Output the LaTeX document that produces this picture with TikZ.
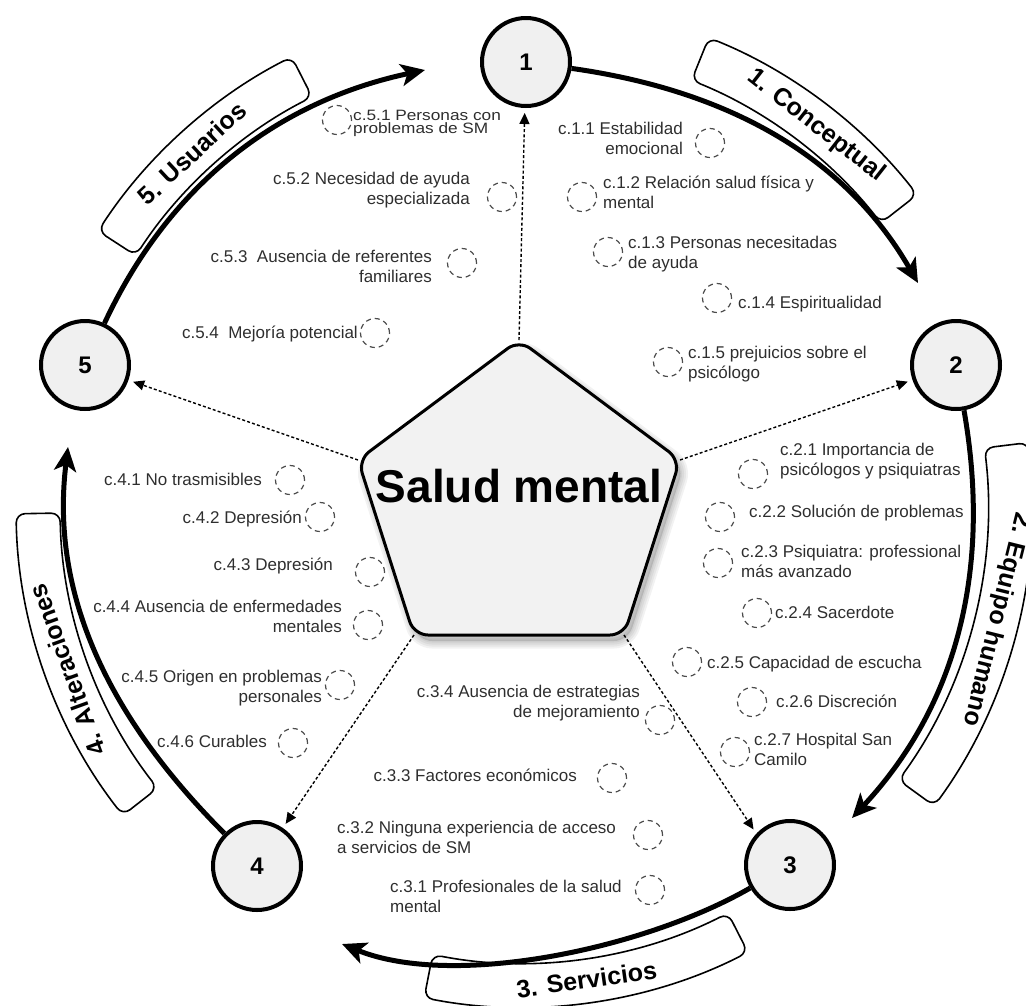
\documentclass[tikz,border=0pt]{standalone}
\usepackage{fontspec}
\setmainfont{Liberation Sans}
\newfontfamily\squeezed[FakeStretch=1.15]{Liberation Sans}
\usetikzlibrary{arrows.meta}
\begin{document}
\begin{tikzpicture}[x=1pt,y=1pt,
  num/.style={circle,draw=black,line width=4pt,fill=black!6,minimum size=88pt,inner sep=0pt,font=\fontsize{24}{24}\selectfont\bfseries},
  dc/.style={circle,draw=black!70,dash pattern=on 5pt off 4pt,line width=1.2pt,minimum size=29pt,inner sep=0pt},
  itm/.style={inner sep=0pt,text=black!82,font=\fontsize{17}{20}\selectfont},
  itl/.style={itm,anchor=north west,align=left},
  itr/.style={itm,anchor=north east,align=right},
  big/.style={line width=5pt,-{Stealth[length=24pt,width=22pt,inset=6pt]},looseness=0.95},
  dsh/.style={line width=1.4pt,dash pattern=on 3pt off 2.2pt,-{Triangle[length=11pt,width=10pt]},shorten >=5pt},
  band/.style={draw=black,line width=1.6pt,fill=white,rounded corners=9pt},
  blab/.style={inner sep=0pt,font=\fontsize{25}{25}\selectfont\bfseries}
]
\useasboundingbox (0,0) rectangle (1026,-1005);
\coordinate (C) at (520,-505);

% label bands
\draw[band] ([shift={(C)}]38:458pt) arc[start angle=38,end angle=68,radius=458pt] -- ([shift={(C)}]68:504pt) arc[start angle=68,end angle=38,radius=504pt] -- cycle;
\node[blab,rotate=-38] (b1) at ([shift={(C)}]52:481pt) {1. Conceptual};

\draw[band] ([shift={(C)}]-36:468pt) arc[start angle=-36,end angle=7,radius=468pt] -- ([shift={(C)}]7:512pt) arc[start angle=7,end angle=-36,radius=512pt] -- cycle;
\node[blab,rotate=-104] (b2) at ([shift={(C)}]-13.5:490pt) {2. Equipo humano};

\draw[band] ([shift={(C)}]-101:458pt) arc[start angle=-101,end angle=-63,radius=458pt] -- ([shift={(C)}]-63:502pt) arc[start angle=-63,end angle=-101,radius=502pt] -- cycle;
\node[blab,rotate=8] (b3) at ([shift={(C)}]-82:479pt) {3. Servicios};

\draw[band] ([shift={(C)}]181:460pt) arc[start angle=181,end angle=218,radius=460pt] -- ([shift={(C)}]218:504pt) arc[start angle=218,end angle=181,radius=504pt] -- cycle;
\node[blab,rotate=110] (b4) at ([shift={(C)}]200:482pt) {4. Alteraciones};

\draw[band] ([shift={(C)}]117:458pt) arc[start angle=117,end angle=147,radius=458pt] -- ([shift={(C)}]147:503pt) arc[start angle=147,end angle=117,radius=503pt] -- cycle;
\node[blab,rotate=43] (b5) at ([shift={(C)}]133:481pt) {5. Usuarios};

% central pentagon with soft shadow
\begin{scope}[shift={(4,-6)}]
\foreach \w in {3,7,11,15}{\draw[black,opacity=0.05,line width=\w pt,line join=round,rounded corners=14pt] (519,-340) -- (680,-460) -- (624,-635) -- (414,-635) -- (358,-460) -- cycle;}
\fill[black,opacity=0.12,rounded corners=14pt] (519,-340) -- (680,-460) -- (624,-635) -- (414,-635) -- (358,-460) -- cycle;
\end{scope}
\coordinate (pT) at (519,-340);
\coordinate (pR) at (680,-460);
\coordinate (pBR) at (624,-635);
\coordinate (pBL) at (414,-635);
\coordinate (pL) at (358,-460);
\draw[line width=3pt,fill=black!5,rounded corners=14pt,line join=round] (pT) -- (pR) -- (pBR) -- (pBL) -- (pL) -- cycle;
\node[font=\fontsize{46}{46}\selectfont\bfseries,inner sep=0pt,anchor=base] (smt) at (519,-502) {Salud mental};

% numbered nodes
\node[num] (n1) at (526,-62) {1};
\node[num] (n2) at (956,-365) {2};
\node[num] (n3) at (790,-865) {3};
\node[num] (n4) at (257,-866) {4};
\node[num] (n5) at (85,-365) {5};

% cycle arrows
\coordinate (e12) at (918,-283);
\coordinate (e23) at (852,-818);
\coordinate (e34) at (342,-944);
\coordinate (e45) at (68,-447);
\coordinate (e51) at (425,-70);
\draw[big] (n1) to[out=-8,in=120] (e12);
\draw[big] (n2) to[out=-80,in=47] (e23);
\draw[big,looseness=0.75] (n3) to[out=-150,in=-22] (e34);
\draw[big] (n4) to[out=135,in=-97] (e45);
\draw[big] (n5) to[out=65,in=-168] (e51);

% dashed connectors
\draw[dsh] (pT) -- (n1);
\draw[dsh] (pR) -- (n2);
\draw[dsh] (pBR) -- (n3.137);
\draw[dsh] (pBL) -- (n4);
\draw[dsh] (pL) -- (n5);

% category 5
\node[itm,anchor=north west,align=left,font=\squeezed\fontsize{15}{13}\selectfont] (t51) at (353,-106) {\rule{0pt}{14pt}c.5.1 Personas con\\problemas de SM};
\node[dc] (d51) at (337,-120) {};
\node[itr] (t52) at (470,-168.5) {\rule{0pt}{16pt}c.5.2 Necesidad de ayuda\\especializada};
\node[dc] (d52) at (502,-197) {};
\node[itr] (t53) at (432,-246.5) {\rule{0pt}{16pt}c.5.3~ Ausencia de referentes\\familiares};
\node[dc] (d53) at (462,-263) {};
\node[itr] (t54) at (358,-322.5) {\rule{0pt}{16pt}c.5.4~ Mejoría potencial};
\node[dc] (d54) at (375,-333) {};

% category 1
\node[itr] (t11) at (683,-118.5) {\rule{0pt}{16pt}c.1.1 Estabilidad\\emocional};
\node[dc] (d11) at (710,-143) {};
\node[itl] (t12) at (603,-172.5) {\rule{0pt}{16pt}c.1.2 Relación salud física y\\mental};
\node[dc] (d12) at (582,-197) {};
\node[itl] (t13) at (628,-232.5) {\rule{0pt}{16pt}c.1.3 Personas necesitadas\\de ayuda};
\node[dc] (d13) at (608,-252) {};
\node[itl] (t14) at (738,-292.5) {\rule{0pt}{16pt}c.1.4 Espiritualidad};
\node[dc] (d14) at (717,-298) {};
\node[itl] (t15) at (688,-342.5) {\rule{0pt}{16pt}c.1.5 prejuicios sobre el\\psicólogo};
\node[dc] (d15) at (668,-362) {};

% category 2
\node[itl] (t21) at (780,-439.5) {\rule{0pt}{16pt}c.2.1 Importancia de\\psicólogos y psiquiatras};
\node[dc] (d21) at (753,-474) {};
\node[itl] (t22) at (749,-501.5) {\rule{0pt}{16pt}c.2.2 Solución de problemas};
\node[dc] (d22) at (720,-517) {};
\node[itl] (t23) at (741,-541.5) {\rule{0pt}{16pt}c.2.3 Psiquiatra: professional\\más avanzado};
\node[dc] (d23) at (718,-563) {};
\node[itl] (t24) at (775,-602.5) {\rule{0pt}{16pt}c.2.4 Sacerdote};
\node[dc] (d24) at (757,-613) {};
\node[itl] (t25) at (707,-652.5) {\rule{0pt}{16pt}c.2.5 Capacidad de escucha};
\node[dc] (d25) at (687,-662) {};
\node[itl] (t26) at (776,-691.5) {\rule{0pt}{16pt}c.2.6 Discreción};
\node[dc] (d26) at (752,-702) {};
\node[itl] (t27) at (754,-729.5) {\rule{0pt}{16pt}c.2.7 Hospital San\\Camilo};
\node[dc] (d27) at (735,-752) {};

% category 3
\node[itr] (t34) at (640,-681.5) {\rule{0pt}{16pt}c.3.4 Ausencia de estrategias\\de mejoramiento};
\node[dc] (d34) at (660,-720) {};
\node[itr] (t33) at (577,-765.5) {\rule{0pt}{16pt}c.3.3 Factores económicos};
\node[dc] (d33) at (612,-778) {};
\node[itl] (t32) at (337,-817.5) {\rule{0pt}{16pt}c.3.2 Ninguna experiencia de acceso\\a servicios de SM};
\node[dc] (d32) at (648,-835) {};
\node[itl] (t31) at (390,-876.5) {\rule{0pt}{16pt}c.3.1 Profesionales de la salud\\mental};
\node[dc] (d31) at (650,-890) {};

% category 4
\node[itr] (t41) at (262,-469.5) {\rule{0pt}{16pt}c.4.1 No trasmisibles};
\node[dc] (d41) at (290,-480) {};
\node[itr] (t42) at (302,-507.5) {\rule{0pt}{16pt}c.4.2 Depresión};
\node[dc] (d42) at (320,-517) {};
\node[itr] (t43) at (333,-554.5) {\rule{0pt}{16pt}c.4.3 Depresión};
\node[dc] (d43) at (370,-572) {};
\node[itr] (t44) at (342,-596.5) {\rule{0pt}{16pt}c.4.4 Ausencia de enfermedades\\mentales};
\node[dc] (d44) at (368,-625) {};
\node[itr] (t45) at (322,-666.5) {\rule{0pt}{16pt}c.4.5 Origen en problemas\\personales};
\node[dc] (d45) at (340,-685) {};
\node[itr] (t46) at (267,-731.5) {\rule{0pt}{16pt}c.4.6 Curables};
\node[dc] (d46) at (293,-743) {};
\end{tikzpicture}
\end{document}
